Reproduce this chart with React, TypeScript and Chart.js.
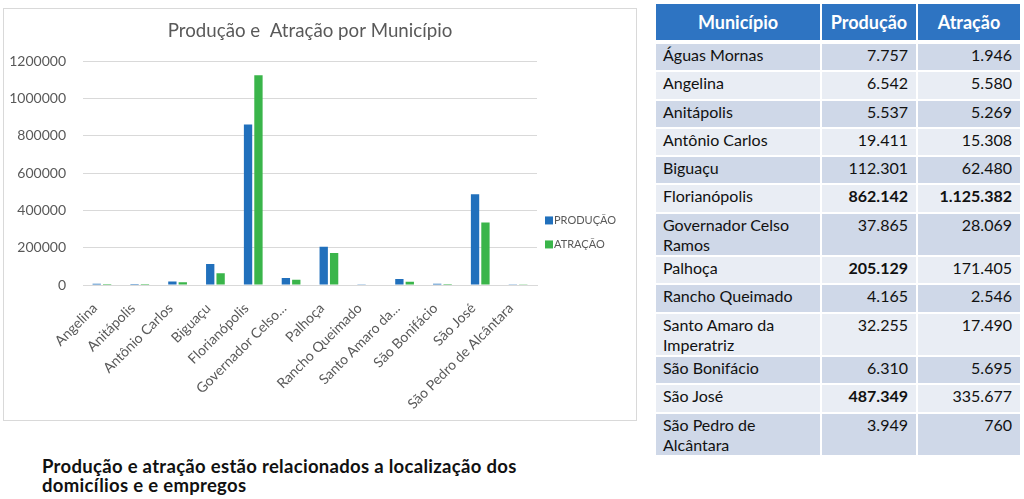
import React, { useEffect, useRef } from "react";
import { Chart, registerables } from "chart.js";

Chart.register(...registerables);

// ---- chart data ----
const categories = [
  "Angelina",
  "Anitápolis",
  "Antônio Carlos",
  "Biguaçu",
  "Florianópolis",
  "Governador Celso Ramos",
  "Palhoça",
  "Rancho Queimado",
  "Santo Amaro da Imperatriz",
  "São Bonifácio",
  "São José",
  "São Pedro de Alcântara",
];
const tickLabels = [
  "Angelina",
  "Anitápolis",
  "Antônio Carlos",
  "Biguaçu",
  "Florianópolis",
  "Governador Celso...",
  "Palhoça",
  "Rancho Queimado",
  "Santo Amaro da...",
  "São Bonifácio",
  "São José",
  "São Pedro de Alcântara",
];
const producao = [6542, 5537, 19411, 112301, 862142, 37865, 205129, 4165, 32255, 6310, 487349, 3949];
const atracao = [5580, 5269, 15308, 62480, 1125382, 28069, 171405, 2546, 17490, 5695, 335677, 760];
const yMin = 0;
const yMax = 1200000;
const yStep = 200000;
const seriesNames = ["PRODUÇÃO", "ATRAÇÃO"];
const chartTitle = "Produção e  Atração por Município";

// ---- table data ----
const tableMunicipios = [
  "Águas Mornas",
  "Angelina",
  "Anitápolis",
  "Antônio Carlos",
  "Biguaçu",
  "Florianópolis",
  "Governador Celso Ramos",
  "Palhoça",
  "Rancho Queimado",
  "Santo Amaro da Imperatriz",
  "São Bonifácio",
  "São José",
  "São Pedro de Alcântara",
];
const tableProducao = [7757, 6542, 5537, 19411, 112301, 862142, 37865, 205129, 4165, 32255, 6310, 487349, 3949];
const tableAtracao = [1946, 5580, 5269, 15308, 62480, 1125382, 28069, 171405, 2546, 17490, 5695, 335677, 760];
const boldProducao = [false, false, false, false, false, true, false, true, false, false, false, true, false];
const boldAtracao = [false, false, false, false, false, true, false, false, false, false, false, false, false];
const twoLineRows = [false, false, false, false, false, false, true, false, false, true, false, false, true];
const tableHeaders = ["Município", "Produção", "Atração"];
const captionLines = [
  "Produção e atração estão relacionados a localização dos",
  "domicílios e e empregos",
];

const FONT = "Lato, 'Open Sans', sans-serif";
const BLUE = "#2170BC";
const GREEN = "#3AB54A";
const GRAY = "#595959";

function fmt(n: number): string {
  return String(n).replace(/\B(?=(\d{3})+(?!\d))/g, ".");
}

// Legend drawn at the right of the plot area from the chart's own datasets
const sideLegend = {
  id: "sideLegend",
  afterDraw(chart: any) {
    const ctx = chart.ctx;
    const area = chart.chartArea;
    const x = area.right + 8;
    const y0 = area.top + 159;
    const step = 24;
    ctx.save();
    ctx.font = `11px ${FONT}`;
    ctx.textBaseline = "middle";
    ctx.textAlign = "left";
    chart.data.datasets.forEach((ds: any, i: number) => {
      const y = y0 + i * step;
      ctx.fillStyle = ds.backgroundColor;
      ctx.fillRect(x, y - 4, 8, 8);
      ctx.fillStyle = GRAY;
      ctx.fillText(ds.label, x + 9, y + 0.5);
    });
    ctx.restore();
  },
};

function BarChart() {
  const ref = useRef<HTMLCanvasElement | null>(null);
  useEffect(() => {
    if (!ref.current) return;
    const chart = new Chart(ref.current, {
      type: "bar",
      data: {
        labels: tickLabels,
        datasets: [
          {
            label: seriesNames[0],
            data: producao,
            backgroundColor: BLUE,
            categoryPercentage: 0.55,
            barPercentage: 0.8,
          },
          {
            label: seriesNames[1],
            data: atracao,
            backgroundColor: GREEN,
            categoryPercentage: 0.55,
            barPercentage: 0.8,
          },
        ],
      },
      plugins: [sideLegend],
      options: {
        animation: false,
        responsive: false,
        maintainAspectRatio: false,
        layout: { padding: { left: 0, right: 99, top: 0, bottom: 4 } },
        plugins: {
          title: {
            display: true,
            fullSize: false,
            text: chartTitle,
            color: GRAY,
            font: { family: FONT, size: 18.7, weight: "normal" },
            padding: { top: 11, bottom: 19 },
          },
          legend: { display: false },
          tooltip: { enabled: false },
        },
        scales: {
          x: {
            grid: { display: false, drawTicks: false },
            border: { display: true, color: "#d9d9d9" },
            ticks: {
              color: GRAY,
              font: { family: FONT, size: 14 },
              minRotation: 45,
              maxRotation: 45,
              autoSkip: false,
              padding: 15,
              labelOffset: -7,
            },
            afterFit: (s: any) => {
              s.height = 131;
            },
          },
          y: {
            min: yMin,
            max: yMax,
            ticks: {
              stepSize: yStep,
              color: GRAY,
              font: { family: FONT, size: 14 },
              padding: 17,
              callback: (v: any) => String(v),
            },
            grid: { color: "#d9d9d9", drawTicks: false },
            border: { display: false },
            afterFit: (s: any) => {
              s.width = 79;
            },
          },
        },
      },
    } as any);
    return () => chart.destroy();
  }, []);
  return <canvas ref={ref} width={632} height={411} style={{ display: "block" }} />;
}

function DataTable() {
  const cellBase: React.CSSProperties = {
    padding: "1px 8px 0 7px",
    lineHeight: "20px",
    verticalAlign: "top",
    fontSize: 16,
    color: "#111",
  };
  return (
    <table
      style={{
        position: "absolute",
        left: 654,
        top: 2,
        borderCollapse: "separate",
        borderSpacing: 2,
        fontFamily: FONT,
        tableLayout: "fixed",
      }}
    >
      <colgroup>
        <col style={{ width: 164 }} />
        <col style={{ width: 94 }} />
        <col style={{ width: 102 }} />
      </colgroup>
      <thead>
        <tr style={{ height: 38 }}>
          {tableHeaders.map((h) => (
            <th
              key={h}
              style={{
                background: "#2E74C2",
                color: "#fff",
                fontWeight: 700,
                fontSize: 18,
                textAlign: "center",
                verticalAlign: "middle",
                padding: 0,
                borderBottom: "2px solid #fff",
              }}
            >
              {h}
            </th>
          ))}
        </tr>
      </thead>
      <tbody>
        {tableMunicipios.map((m, i) => {
          const bg = i % 2 === 0 ? "#CFD8E8" : "#E9EDF4";
          return (
            <tr key={m} style={{ height: twoLineRows[i] ? 41.3 : 26.3 }}>
              <td style={{ ...cellBase, background: bg, textAlign: "left" }}>{m}</td>
              <td style={{ ...cellBase, background: bg, textAlign: "right", fontWeight: boldProducao[i] ? 700 : 400 }}>
                {fmt(tableProducao[i])}
              </td>
              <td style={{ ...cellBase, background: bg, textAlign: "right", fontWeight: boldAtracao[i] ? 700 : 400 }}>
                {fmt(tableAtracao[i])}
              </td>
            </tr>
          );
        })}
      </tbody>
    </table>
  );
}

export default function App() {
  return (
    <div style={{ position: "absolute", left: 0, top: 0, width: 1024, height: 499, background: "#fff", overflow: "hidden" }}>
      <div
        style={{
          position: "absolute",
          left: 3,
          top: 8,
          width: 632,
          height: 411,
          border: "1px solid #d9d9d9",
        }}
      >
        <BarChart />
      </div>
      <DataTable />
      <div
        style={{
          position: "absolute",
          left: 42,
          top: 457,
          fontFamily: FONT,
          fontSize: 18.5,
          fontWeight: 700,
          letterSpacing: 0.3,
          lineHeight: "19px",
          color: "#111",
          whiteSpace: "nowrap",
        }}
      >
        {captionLines.map((l) => (
          <div key={l}>{l}</div>
        ))}
      </div>
    </div>
  );
}
